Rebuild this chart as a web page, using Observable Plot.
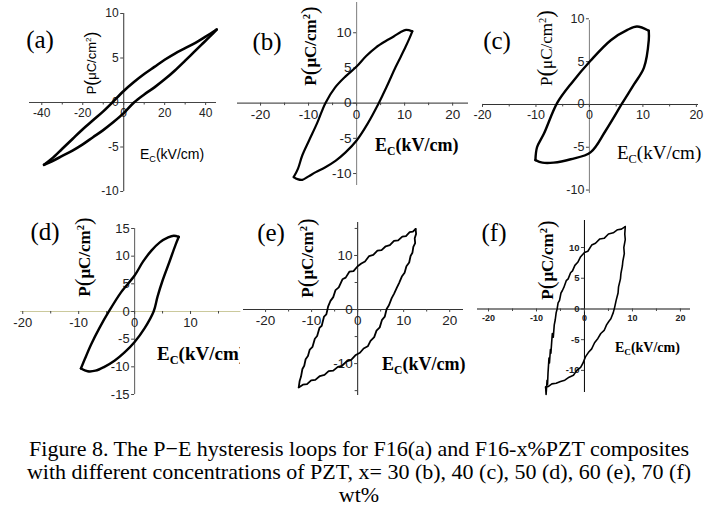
<!DOCTYPE html>
<html><head><meta charset="utf-8">
<script src="https://cdn.jsdelivr.net/npm/d3@7"></script>
<script src="https://cdn.jsdelivr.net/npm/@observablehq/plot@0.6"></script>
<style>
html,body{margin:0;padding:0;background:#fff;}
#fig{position:relative;width:718px;height:510px;overflow:hidden;background:#fff;}
#fig svg{position:absolute;overflow:visible;background:transparent;}
.plab{position:absolute;transform:translate(-50%,-50%);font-family:"Liberation Serif","Times New Roman",serif;font-size:25px;line-height:1;white-space:nowrap;color:#000;}
.yt{position:absolute;transform:translate(-50%,-50%) rotate(-90deg);white-space:nowrap;line-height:1;color:#000;}
.xt{position:absolute;transform:translateY(-50%);white-space:nowrap;line-height:1;color:#000;}
.serif{font-family:"Liberation Serif","Times New Roman",serif;}
.sans{font-family:"Liberation Sans",Arial,sans-serif;}
.bold{font-weight:bold;}
.bp{font-size:1.35em;position:relative;top:0.04em;font-weight:normal;}
.sup{font-size:0.62em;position:relative;top:-0.6em;}
.sub{font-size:0.65em;position:relative;top:0.32em;}
#cap{position:absolute;left:0;top:437px;width:718px;text-align:center;font-family:"Liberation Serif","Times New Roman",serif;font-size:22px;line-height:23px;color:#000;white-space:nowrap;}
</style>
</head><body>
<div id="fig">
  <div class="plab" style="left:40px;top:39px">(a)</div>
  <div class="plab" style="left:267px;top:41px">(b)</div>
  <div class="plab" style="left:497px;top:40px">(c)</div>
  <div class="plab" style="left:45px;top:231px">(d)</div>
  <div class="plab" style="left:271px;top:232px">(e)</div>
  <div class="plab" style="left:494px;top:232px">(f)</div>

  <div class="yt sans" style="left:91px;top:63px;font-size:13px">P<span class="bp">(</span>μC/cm<span class="sup">2</span><span class="bp">)</span></div>
  <div class="yt serif bold" style="left:309px;top:46px;font-size:17px">P<span class="bp">(</span>μC/cm<span class="sup">2</span><span class="bp">)</span></div>
  <div class="yt serif" style="left:545px;top:48px;font-size:17px">P<span class="bp">(</span>μC/cm<span class="sup">2</span><span class="bp">)</span></div>
  <div class="yt serif bold" style="left:83px;top:257px;font-size:17px">P<span class="bp">(</span>μC/cm<span class="sup">2</span><span class="bp">)</span></div>
  <div class="yt serif bold" style="left:306px;top:258px;font-size:17px">P<span class="bp">(</span>μC/cm<span class="sup">2</span><span class="bp">)</span></div>
  <div class="yt serif bold" style="left:546px;top:260px;font-size:17px">P<span class="bp">(</span>μC/cm<span class="sup">2</span><span class="bp">)</span></div>

  <div class="xt sans" style="left:140px;top:154px;font-size:14px">E<span class="sub">C</span>(kV/cm)</div>
  <div class="xt serif bold" style="left:375px;top:145px;font-size:18px">E<span class="sub">C</span>(kV/cm)</div>
  <div class="xt serif" style="left:617px;top:152px;font-size:19px">E<span class="sub">C</span>(kV/cm)</div>
  <div class="xt serif bold" style="left:157px;top:353px;font-size:19px;width:83px;clip-path:inset(-12px 0px -12px -12px)">E<span class="sub">C</span>(kV/cm)</div>
  <div class="xt serif bold" style="left:382px;top:364px;font-size:18px">E<span class="sub">C</span>(kV/cm)</div>
  <div class="xt serif bold" style="left:615px;top:348px;font-size:14px">E<span class="sub">C</span>(kV/cm)</div>

  <div id="cap">Figure 8. The P−E hysteresis loops for F16(a) and F16-x%PZT composites<br>with different concentrations of PZT, x= 30 (b), 40 (c), 50 (d), 60 (e), 70 (f)<br>wt%</div>
</div>
<script>
// ---------- data: [E (kV/cm), P (µC/cm²)] ----------
const aUpper = [[-38.9,-7.0],[-35,-6.3],[-30,-5.2],[-25,-4.1],[-20,-3.0],[-15,-2.0],[-10,-1.0],[-6,-0.1],[0,1.3],[5,2.3],[10,3.2],[15,4.0],[20,4.8],[25,5.5],[30,6.1],[35,6.7],[40,7.4],[45.4,8.2]];
const aLower = [[45.4,8.2],[42,7.4],[38,6.5],[34,5.6],[30,4.7],[25,3.6],[20,2.6],[15,1.7],[10,0.9],[5,0],[0,-1.2],[-5,-2.2],[-10,-3.1],[-15,-3.9],[-20,-4.7],[-25,-5.4],[-30,-6.0],[-35,-6.6],[-38.9,-7.0]];
const aXTicks = [-40,-20,0,20,40], aXMinor = [-30,-10,10,30], aYTicks = [-10,-5,0,5,10];

const bUpper = [[-13.1,-10.5],[-12.2,-9.3],[-11.3,-7.4],[-9.9,-5.3],[-8.2,-2.8],[-6.5,0],[-4.5,2.2],[-2.3,3.8],[0,5.2],[2,6.7],[4,7.9],[6,8.8],[7.8,9.5],[9.2,10.1],[10.3,10.4],[11.6,10.2]];
const bLower = [[11.6,10.2],[11.0,9.2],[10.2,8.0],[9.2,6.6],[8.1,5.1],[6.3,2.4],[4.6,0],[2.3,-2.9],[0,-5.3],[-2.3,-7.0],[-4.4,-8.2],[-6.5,-9.1],[-8.5,-9.8],[-10,-10.4],[-11.3,-10.9],[-12.3,-10.8],[-13.1,-10.5]];
const bXTicks = [-20,-10,0,10,20], bXMinor = [-15,-5,5,15], bYTicks = [-10,-5,0,5,10];

const cUpper = [[-10.1,-6.5],[-9.8,-5.0],[-8.5,-3.4],[-6.0,0.2],[-3.2,2.6],[0.2,5.1],[4.0,7.5],[7.1,8.7],[8.9,9.1],[11.1,8.6]];
const cLower = [[11.1,8.6],[11.1,7.5],[10.2,4.3],[8.3,2.3],[6.2,0.2],[3.0,-3.1],[0.2,-5.6],[-3.5,-6.4],[-6.7,-6.8],[-8.8,-6.8],[-10.1,-6.5]];
const cXTicks = [-20,-10,0,10,20], cXMinor = [-15,-5,5,15], cYTicks = [-10,-5,0,5,10];

const dUpper = [[-9.6,-10.3],[-8.9,-8.6],[-7.8,-6.0],[-6.3,-3.0],[-4.6,0],[-2.4,3.5],[0,6.5],[1.5,9.0],[3.0,11.0],[4.5,12.5],[6.0,13.4],[7.0,13.7],[7.9,13.5]];
const dLower = [[7.9,13.5],[7.3,12.0],[6.2,8.9],[5.0,5.6],[4.1,2.7],[3.4,0],[1.8,-3.0],[0,-5.5],[-1.8,-7.4],[-3.6,-8.9],[-5.4,-10.0],[-7.0,-10.7],[-8.4,-10.8],[-9.6,-10.3]];
const dXTicks = [-20,-10,0,10], dXMinor = [-15,-5,5,15], dYTicks = [-15,-10,-5,0,5,10,15];

const eUpper = [[-12.8,-14.4],[-12.6,-13.2],[-12.3,-12.4],[-12.0,-11.0],[-11.6,-10.4],[-11.3,-9.2],[-10.8,-8.6],[-10.4,-7.4],[-9.8,-6.9],[-9.3,-5.4],[-8.8,-4.9],[-8.3,-3.4],[-7.8,-3.0],[-7.3,-1.3],[-6.8,-0.9],[-6.4,0.6],[-5.9,1.6],[-5.3,2.3],[-4.8,3.6],[-4.1,4.1],[-3.3,5.6],[-2.6,5.9],[-1.8,7.0],[-0.9,7.1],[0,8.0],[0.8,8.5],[1.6,8.9],[2.5,9.9],[3.4,10.1],[4.3,10.9],[5.2,11.0],[6.1,11.7],[7.0,11.9],[7.9,12.7],[8.8,12.8],[9.7,13.5],[10.5,13.6],[11.3,14.3],[12.0,14.4],[12.6,14.9]];
const eLower = [[12.6,14.9],[12.7,14.0],[12.4,13.2],[12.5,12.3],[12.1,11.6],[11.9,10.5],[11.5,9.9],[11.2,8.7],[10.6,8.0],[10.2,6.8],[9.6,6.1],[9.0,4.9],[8.5,4.0],[7.9,2.9],[7.4,2.1],[6.8,0.8],[6.3,0.1],[5.9,-1.3],[5.3,-1.9],[4.8,-3.3],[4.1,-3.9],[3.6,-5.1],[2.8,-5.8],[2.2,-6.8],[1.3,-7.2],[0.5,-8.0],[-0.4,-8.4],[-1.4,-9.3],[-2.4,-9.6],[-3.4,-10.4],[-4.3,-10.6],[-5.3,-11.3],[-6.3,-11.4],[-7.2,-12.1],[-8.2,-12.3],[-9.2,-13.0],[-10.1,-13.1],[-11.0,-13.8],[-11.9,-13.9],[-12.8,-14.4]];
const eXTicks = [-20,-10,0,10,20], eXMinor = [-15,-5,5,15], eYTicks = [-10,0,10], eYMinor = [-15,-5,5,15];

const fUpper = [[-8.1,-12.7],[-8.0,-13.9],[-7.8,-11.6],[-7.7,-12.3],[-7.6,-10.4],[-7.5,-9.2],[-7.4,-8.0],[-7.3,-8.8],[-7.1,-6.6],[-7.0,-7.2],[-6.8,-5.0],[-6.7,-4.0],[-6.5,-4.6],[-6.3,-2.6],[-6.1,-1.8],[-5.9,-0.6],[-5.7,0.0],[-5.5,1.0],[-5.2,1.4],[-4.9,2.6],[-4.6,3.0],[-4.3,3.5],[-3.8,4.6],[-3.4,4.9],[-2.9,5.9],[-2.5,6.2],[-2.0,7.1],[-1.4,7.6],[-0.8,8.5],[0,9.2],[0.7,9.4],[1.5,10.4],[2.3,10.7],[3.2,11.4],[4.1,11.5],[5.0,12.2],[6.0,12.4],[6.9,12.9],[7.7,13.0],[8.5,13.4]];
const fLower = [[8.5,13.4],[8.4,12.2],[8.5,11.3],[8.2,10.0],[8.3,9.0],[8.0,7.8],[7.9,7.0],[7.6,5.8],[7.5,4.9],[7.1,3.6],[7.0,2.6],[6.6,1.4],[6.3,0.3],[6.0,-0.6],[5.5,-1.6],[5.1,-2.0],[4.6,-2.6],[4.1,-3.5],[3.4,-4.0],[2.8,-4.8],[2.1,-5.5],[1.5,-6.5],[0.8,-7.1],[0.2,-7.8],[-0.3,-8.8],[-0.8,-9.5],[-1.6,-10.0],[-2.3,-10.8],[-3.2,-11.1],[-4.1,-11.6],[-5.0,-11.8],[-5.9,-12.1],[-6.8,-12.2],[-7.5,-12.6],[-8.1,-12.7]];
const fXTicks = [-20,-10,0,10,20], fXMinor = [-15,-5,5,15], fYTicks = [-10,-5,0,5,10];

// ---------- layout (frame in page pixels, scale domains) ----------
const panels = [
  {up:aUpper, lo:aLower, xt:aXTicks, xm:aXMinor, yt:aYTicks, ym:[], frame:[29,216,13,191], xd:[-46,45.3], yd:[-10,10], fs:12, fw:"normal", sw:2.6, curve:"catmull-rom", ax:"#444", ay:"#444"},
  {up:bUpper, lo:bLower, xt:bXTicks, xm:bXMinor, yt:bYTicks, ym:[], frame:[237,468,2,185], xd:[-24.8,23.3], yd:[-11.7,14.3], fs:13.5, fw:"normal", sw:2.2, curve:"catmull-rom", ax:"#555", ay:"#888"},
  {up:cUpper, lo:cLower, xt:cXTicks, xm:cXMinor, yt:cYTicks, ym:[], frame:[482,698,20,193], xd:[-20,20.4], yd:[-10.4,9.8], fs:12.5, fw:"normal", sw:2.4, curve:"catmull-rom", ax:"#333", ay:"#888"},
  {up:dUpper, lo:dLower, xt:dXTicks, xm:dXMinor, yt:dYTicks, ym:[], frame:[20,240.4,228,394], xd:[-20.4,19], yd:[-15,15], fs:13, fw:"normal", sw:2.4, curve:"catmull-rom", ax:"#cbc99c", ay:"#666"},
  {up:eUpper, lo:eLower, xt:eXTicks, xm:eXMinor, yt:eYTicks, ym:eYMinor, frame:[243,463,222,395], xd:[-24.8,23], yd:[-15.9,16.1], fs:13.5, fw:"normal", sw:1.8, curve:"linear", ax:"#333", ay:"#333"},
  {up:fUpper, lo:fLower, xt:fXTicks, xm:fXMinor, yt:fYTicks, ym:[], frame:[477,690,220,392], xd:[-22.3,22.1], yd:[-13.6,14.4], fs:9, fw:"bold", sw:1.6, curve:"linear", ax:"#111", ay:"#111"}
];

const fig = document.getElementById("fig");
const fmt = d => String(d);
panels.forEach(p => {
  const mL = 36, mR = 14, mT = 14, mB = 24;
  const [L, R, T, B] = p.frame;
  const W = R - L + mL + mR, H = B - T + mT + mB;
  const xs = Plot.scale({x: {domain: p.xd, range: [mL, W - mR]}});
  const ys = Plot.scale({y: {domain: p.yd, range: [H - mB, mT]}});
  const dyAxis = ys.apply(0) - (H - mB);
  const dxAxis = xs.apply(0) - mL;
  const rows = [
    ...p.up.map(([E, P]) => ({E, P, branch: "up"})),
    ...p.lo.map(([E, P]) => ({E, P, branch: "down"}))
  ];
  const marks = [
    Plot.ruleY([0], {stroke: p.ax, strokeWidth: 1.1}),
    Plot.ruleX([0], {stroke: p.ay, strokeWidth: 1.1}),
    Plot.axisX(p.xm, {tickFormat: () => "", tickSize: 2.5, stroke: "#444", dy: dyAxis}),
    Plot.axisX(p.xt, {tickFormat: fmt, tickSize: 3, tickPadding: 3, stroke: "#444", fill: "#222", fontSize: p.fs, fontWeight: p.fw, dy: dyAxis}),
    Plot.axisY(p.yt, {tickFormat: fmt, tickSize: 3, tickPadding: 2, stroke: "#444", fill: "#222", fontSize: p.fs + (p.fw === "bold" ? 0.5 : 0), fontWeight: p.fw, dx: dxAxis})
  ];
  if (p.ym.length) marks.push(Plot.axisY(p.ym, {tickFormat: () => "", tickSize: 2.5, stroke: "#444", dx: dxAxis}));
  marks.push(Plot.line(rows, {x: "E", y: "P", z: "branch", stroke: "#000", strokeWidth: p.sw, curve: p.curve, strokeLinejoin: "round"}));
  const chart = Plot.plot({
    width: W, height: H,
    marginLeft: mL, marginRight: mR, marginTop: mT, marginBottom: mB,
    x: {domain: p.xd, label: null},
    y: {domain: p.yd, label: null},
    style: {fontFamily: "'Liberation Sans', Arial, sans-serif", fontSize: "12px", background: "transparent", overflow: "visible"},
    marks
  });
  chart.style.left = (L - mL) + "px";
  chart.style.top = (T - mT) + "px";
  fig.insertBefore(chart, fig.firstChild);
});
</script>
</body></html>
